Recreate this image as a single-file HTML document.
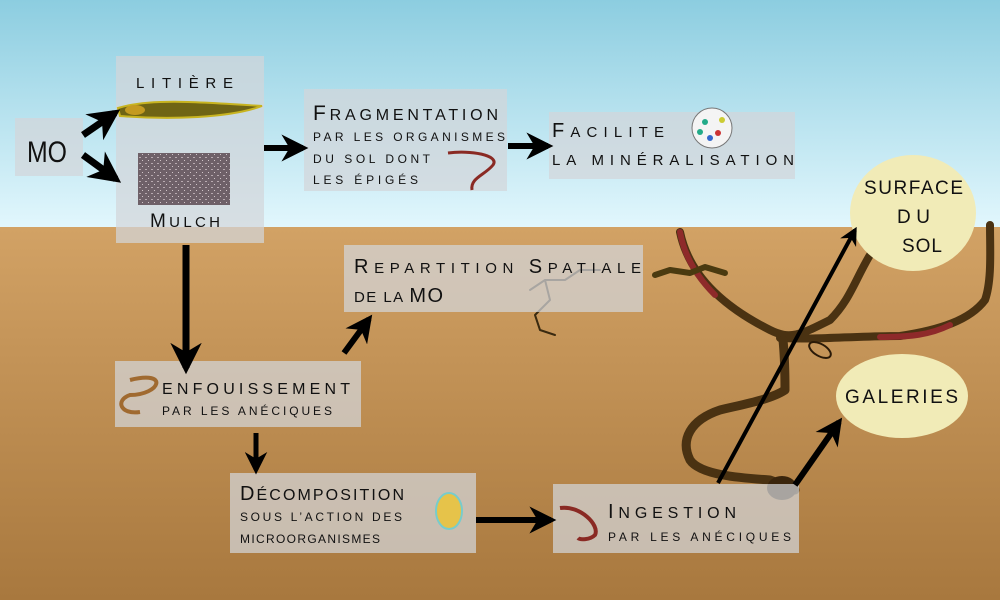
<!DOCTYPE html>
<html><head><meta charset="utf-8"><style>
html,body{margin:0;padding:0;width:1000px;height:600px;overflow:hidden}
svg{display:block}
text{font-family:"Liberation Sans",sans-serif;fill:#111}
</style></head><body>
<svg width="1000" height="600" viewBox="0 0 1000 600">
<defs>
<linearGradient id="sky" x1="0" y1="0" x2="0" y2="1"><stop offset="0" stop-color="#8ccde0"/><stop offset="1" stop-color="#e2f7fd"/></linearGradient>
<linearGradient id="soil" x1="0" y1="0" x2="0" y2="1"><stop offset="0" stop-color="#d2a265"/><stop offset="1" stop-color="#a8783e"/></linearGradient>
<marker id="ah" viewBox="0 0 10 10" refX="8" refY="5" markerWidth="4.5" markerHeight="4.5" orient="auto"><path d="M0,0 L10,5 L0,10 L3,5 Z" fill="#000"/></marker>
<pattern id="mul" width="6" height="6" patternUnits="userSpaceOnUse"><rect width="6" height="6" fill="#6e6068"/><rect x="1" y="1" width="2" height="1" fill="#b8aab0"/><rect x="4" y="4" width="1" height="1" fill="#d0c4c8"/></pattern>
</defs>
<rect x="0" y="0" width="1000" height="228" fill="url(#sky)"/>
<rect x="0" y="227" width="1000" height="373" fill="url(#soil)"/>

<!-- tunnels -->
<g fill="none" stroke-linecap="round" stroke-linejoin="round">
<path d="M680,232 C690,280 730,310 770,330 C790,340 800,335 830,320 C850,300 855,280 870,255" stroke="#4a3212" stroke-width="8"/>
<path d="M680,232 C685,260 700,280 715,295" stroke="#8e2a2a" stroke-width="6"/>
<path d="M780,338 C820,340 850,336 900,336 C940,330 970,320 985,300 C992,280 990,250 990,225" stroke="#4a3212" stroke-width="8"/>
<path d="M880,337 C910,337 930,335 950,325" stroke="#8e2a2a" stroke-width="6"/>
<path d="M783,340 C785,360 785,375 785,390 C770,400 740,405 720,410 C690,420 680,440 690,460 C700,475 740,478 770,480 C785,485 790,490 795,490" stroke="#4a3212" stroke-width="9"/>
<ellipse cx="782" cy="488" rx="15" ry="12" fill="#3a250c"/>
<ellipse cx="820" cy="350" rx="12" ry="6" stroke="#2a1a08" stroke-width="2" transform="rotate(30 820 350)"/>
<path d="M655,275 l15,-5 l20,3 l15,-6 l20,6" stroke="#4a3a10" stroke-width="6"/>
<path d="M530,290 l15,-10 l20,0 l15,-10 l20,0 M545,280 l5,20 l-15,15 l5,15 l15,5" stroke="#3a2a10" stroke-width="2"/>
</g>

<!-- boxes -->
<g fill="rgba(210,214,218,0.72)">
<rect x="15" y="118" width="68" height="58"/>
<rect x="116" y="56" width="148" height="187"/>
<rect x="304" y="89" width="203" height="102"/>
<rect x="549" y="112" width="246" height="67"/>
<rect x="344" y="245" width="299" height="67"/>
<rect x="115" y="361" width="246" height="66"/>
<rect x="230" y="473" width="246" height="80"/>
<rect x="553" y="484" width="246" height="69"/>
</g>
<ellipse cx="913" cy="213" rx="63" ry="58" fill="#f1ebb7"/>
<ellipse cx="902" cy="396" rx="66" ry="42" fill="#f1ebb7"/>

<!-- images -->
<path d="M118,108 C150,98 200,102 262,106 C230,118 170,120 120,116 Z" fill="#6f6414" stroke="#c8b420" stroke-width="2"/>
<ellipse cx="135" cy="110" rx="10" ry="5" fill="#c49a20"/>
<rect x="138" y="153" width="92" height="52" fill="url(#mul)"/>
<path d="M448,153 C470,150 500,155 493,165 C485,175 470,178 472,190" fill="none" stroke="#8a2a24" stroke-width="3"/>
<circle cx="712" cy="128" r="20" fill="#f4f4f4" stroke="#777"/>
<g fill="#2a8"><circle cx="705" cy="122" r="3"/><circle cx="718" cy="133" r="3" fill="#c33"/><circle cx="710" cy="138" r="3" fill="#36c"/><circle cx="722" cy="120" r="3" fill="#cc3"/><circle cx="700" cy="132" r="3"/></g>
<path d="M130,380 C170,370 160,395 130,395 C115,400 120,415 140,412" fill="none" stroke="#a06a30" stroke-width="4"/>
<ellipse cx="449" cy="511" rx="13" ry="18" fill="#e6c34a" stroke="#7cc" stroke-width="2"/>
<path d="M560,508 C580,505 600,525 595,535 C590,540 580,540 578,538" fill="none" stroke="#8a2a24" stroke-width="4"/>

<!-- arrows -->
<g stroke="#000" fill="none" marker-end="url(#ah)">
<path d="M83,135 L115,113" stroke-width="7"/>
<path d="M83,155 L116,179" stroke-width="7"/>
<path d="M264,148 L303,148" stroke-width="6"/>
<path d="M508,146 L548,146" stroke-width="6"/>
<path d="M186,245 L186,368" stroke-width="7"/>
<path d="M344,353 L369,319" stroke-width="6"/>
<path d="M256,433 L256,470" stroke-width="5"/>
<path d="M476,520 L551,520" stroke-width="6"/>
<path d="M718,483 L855,230" stroke-width="4"/>
<path d="M795,485 L839,422" stroke-width="6"/>
</g>

<!-- labels -->
<text x="27" y="162" font-size="30" textLength="40" lengthAdjust="spacingAndGlyphs">MO</text>
<text x="136" y="88" font-size="15" textLength="97" lengthAdjust="spacing">LITIÈRE</text>
<text x="150" y="227" font-size="19" textLength="70" lengthAdjust="spacing">M<tspan font-size="15">ULCH</tspan></text>
<text x="313" y="120" font-size="21" textLength="185" lengthAdjust="spacing">F<tspan font-size="16">RAGMENTATION</tspan></text>
<text x="313" y="141" font-size="12" textLength="192" lengthAdjust="spacing">PAR LES ORGANISMES</text>
<text x="313" y="163" font-size="12" textLength="117" lengthAdjust="spacing">DU SOL DONT</text>
<text x="313" y="184" font-size="12" textLength="105" lengthAdjust="spacing">LES ÉPIGÉS</text>
<text x="552" y="137" font-size="20" textLength="112" lengthAdjust="spacing">F<tspan font-size="15">ACILITE</tspan></text>
<text x="552" y="165" font-size="15" textLength="242" lengthAdjust="spacing">LA MINÉRALISATION</text>
<text x="864" y="194" font-size="19" textLength="99" lengthAdjust="spacing">SURFACE</text>
<text x="897" y="223" font-size="19" textLength="33" lengthAdjust="spacing">DU</text>
<text x="902" y="252" font-size="19" textLength="40" lengthAdjust="spacing">SOL</text>
<text x="845" y="403" font-size="19" textLength="113" lengthAdjust="spacing">GALERIES</text>
<text x="354" y="273" font-size="20" textLength="287" lengthAdjust="spacing">R<tspan font-size="15">EPARTITION </tspan><tspan font-size="20">S</tspan><tspan font-size="15">PATIALE</tspan></text>
<text x="354" y="302" font-size="15" textLength="89" lengthAdjust="spacing">DE LA <tspan font-size="20">MO</tspan></text>
<text x="162" y="394" font-size="16" textLength="188" lengthAdjust="spacing">ENFOUISSEMENT</text>
<text x="162" y="415" font-size="12" textLength="170" lengthAdjust="spacing">PAR LES ANÉCIQUES</text>
<text x="240" y="500" font-size="20" textLength="164" lengthAdjust="spacing">D<tspan font-size="16">ÉCOMPOSITION</tspan></text>
<text x="240" y="521" font-size="12" textLength="162" lengthAdjust="spacing">SOUS L’ACTION DES</text>
<text x="240" y="543" font-size="12" textLength="140" lengthAdjust="spacing">MICROORGANISMES</text>
<text x="608" y="518" font-size="20" textLength="128" lengthAdjust="spacing">I<tspan font-size="16">NGESTION</tspan></text>
<text x="608" y="541" font-size="12" textLength="183" lengthAdjust="spacing">PAR LES ANÉCIQUES</text>
</svg>
</body></html>
